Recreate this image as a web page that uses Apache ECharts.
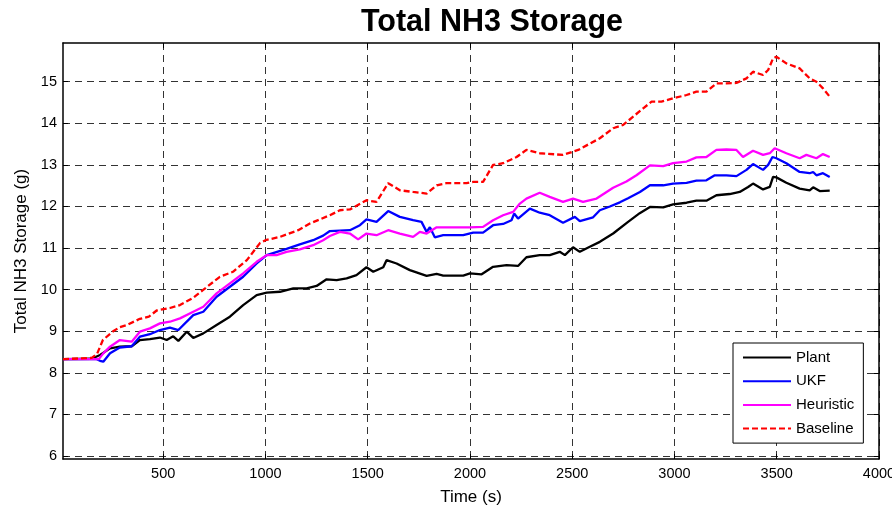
<!DOCTYPE html>
<html>
<head>
<meta charset="utf-8">
<script src="https://cdn.jsdelivr.net/npm/echarts@6/dist/echarts.min.js"></script>
<style>
  html, body { margin: 0; padding: 0; background: #fff; }
  #chart { width: 892px; height: 508px; }
</style>
</head>
<body>
<div id="chart"></div>
<script>
// Tick positions
const xTicks = [500, 1000, 1500, 2000, 2500, 3000, 3500, 4000];
const yTicks = [6, 7, 8, 9, 10, 11, 12, 13, 14, 15];

// Plant
const plantT = [10, 150, 191, 240, 288, 346, 386, 435, 484, 517, 549, 574, 615, 647, 696, 761, 826, 891, 957, 1006, 1071, 1136, 1201, 1250, 1299, 1348, 1397, 1445, 1494, 1527, 1576, 1592, 1641, 1706, 1788, 1837, 1869, 1967, 2000, 2057, 2113, 2179, 2235, 2276, 2341, 2390, 2439, 2464, 2504, 2537, 2586, 2635, 2700, 2773, 2830, 2880, 2945, 2993, 3059, 3107, 3156, 3205, 3270, 3319, 3360, 3384, 3433, 3466, 3482, 3498, 3547, 3612, 3661, 3678, 3710, 3759];
const plantV = [8.33, 8.34, 8.43, 8.59, 8.63, 8.64, 8.79, 8.81, 8.85, 8.79, 8.88, 8.77, 8.99, 8.84, 8.95, 9.15, 9.35, 9.63, 9.87, 9.93, 9.95, 10.03, 10.03, 10.09, 10.25, 10.23, 10.27, 10.35, 10.54, 10.43, 10.54, 10.71, 10.63, 10.47, 10.33, 10.38, 10.34, 10.34, 10.39, 10.37, 10.55, 10.59, 10.57, 10.78, 10.83, 10.83, 10.91, 10.83, 11.02, 10.91, 11.03, 11.15, 11.35, 11.63, 11.84, 11.99, 11.98, 12.05, 12.09, 12.14, 12.14, 12.27, 12.30, 12.35, 12.47, 12.55, 12.41, 12.47, 12.71, 12.70, 12.57, 12.43, 12.39, 12.46, 12.37, 12.38];

// UKF
const ukfT = [10, 175, 191, 207, 240, 288, 346, 386, 435, 484, 533, 574, 647, 696, 761, 826, 891, 957, 1006, 1103, 1168, 1233, 1282, 1315, 1413, 1462, 1494, 1543, 1600, 1657, 1722, 1763, 1788, 1804, 1828, 1869, 1967, 2016, 2064, 2113, 2162, 2203, 2216, 2235, 2293, 2341, 2390, 2455, 2513, 2537, 2602, 2635, 2684, 2733, 2773, 2831, 2880, 2945, 2993, 3059, 3107, 3156, 3197, 3254, 3303, 3352, 3384, 3433, 3458, 3479, 3498, 3547, 3612, 3661, 3678, 3694, 3726, 3759];
const ukfV = [8.33, 8.33, 8.29, 8.27, 8.47, 8.61, 8.64, 8.87, 8.93, 9.03, 9.09, 9.03, 9.39, 9.47, 9.83, 10.07, 10.31, 10.63, 10.83, 10.98, 11.09, 11.19, 11.30, 11.41, 11.43, 11.55, 11.69, 11.63, 11.89, 11.75, 11.67, 11.63, 11.39, 11.50, 11.26, 11.31, 11.31, 11.37, 11.37, 11.55, 11.58, 11.67, 11.83, 11.71, 11.95, 11.85, 11.79, 11.61, 11.75, 11.65, 11.74, 11.91, 12.00, 12.10, 12.20, 12.35, 12.51, 12.51, 12.55, 12.57, 12.62, 12.63, 12.75, 12.75, 12.73, 12.88, 13.02, 12.88, 13.00, 13.19, 13.16, 13.04, 12.83, 12.80, 12.83, 12.75, 12.80, 12.71];

// Heuristic
const heurT = [10, 185, 207, 240, 288, 346, 386, 435, 484, 533, 582, 647, 696, 761, 826, 891, 957, 1006, 1054, 1103, 1168, 1233, 1282, 1315, 1364, 1413, 1453, 1494, 1543, 1600, 1657, 1722, 1755, 1788, 1837, 2000, 2064, 2113, 2162, 2211, 2244, 2276, 2341, 2390, 2455, 2504, 2553, 2619, 2700, 2765, 2814, 2880, 2945, 2993, 3059, 3107, 3156, 3205, 3254, 3303, 3335, 3384, 3433, 3466, 3490, 3547, 3612, 3645, 3694, 3726, 3759];
const heurV = [8.33, 8.33, 8.47, 8.63, 8.79, 8.75, 8.99, 9.07, 9.19, 9.23, 9.31, 9.47, 9.59, 9.91, 10.15, 10.39, 10.67, 10.83, 10.83, 10.91, 10.97, 11.07, 11.19, 11.29, 11.39, 11.35, 11.21, 11.35, 11.31, 11.43, 11.35, 11.27, 11.39, 11.35, 11.50, 11.50, 11.51, 11.67, 11.79, 11.87, 12.07, 12.19, 12.33, 12.23, 12.11, 12.19, 12.11, 12.19, 12.45, 12.60, 12.75, 12.99, 12.97, 13.04, 13.08, 13.18, 13.19, 13.36, 13.37, 13.36, 13.19, 13.34, 13.24, 13.28, 13.40, 13.28, 13.16, 13.24, 13.16, 13.26, 13.19];

// Baseline
const baseT = [10, 150, 176, 205, 255, 288, 322, 386, 430, 468, 533, 582, 645, 694, 777, 841, 909, 973, 1000, 1071, 1160, 1217, 1315, 1364, 1413, 1494, 1543, 1600, 1657, 1722, 1788, 1837, 1885, 1983, 2016, 2064, 2113, 2162, 2228, 2276, 2341, 2455, 2529, 2635, 2700, 2749, 2798, 2847, 2888, 2936, 2993, 3059, 3107, 3156, 3205, 3254, 3303, 3352, 3384, 3433, 3458, 3482, 3498, 3547, 3612, 3661, 3694, 3726, 3759];
const baseV = [8.33, 8.36, 8.45, 8.79, 9.00, 9.10, 9.15, 9.30, 9.35, 9.50, 9.56, 9.63, 9.80, 9.99, 10.31, 10.43, 10.71, 11.12, 11.19, 11.27, 11.43, 11.59, 11.79, 11.91, 11.93, 12.15, 12.11, 12.56, 12.39, 12.35, 12.31, 12.51, 12.56, 12.56, 12.59, 12.59, 13.00, 13.04, 13.19, 13.36, 13.28, 13.24, 13.36, 13.64, 13.88, 13.96, 14.16, 14.36, 14.52, 14.52, 14.60, 14.68, 14.76, 14.76, 14.96, 14.96, 14.97, 15.08, 15.24, 15.16, 15.28, 15.56, 15.60, 15.44, 15.32, 15.08, 15.00, 14.84, 14.64];

const seriesNames = ['Plant', 'UKF', 'Heuristic', 'Baseline'];

function pairs(t, v) {
  return t.map((x, i) => [x, v[i]]);
}

const FONT = '"Liberation Sans", Arial, Helvetica, sans-serif';
const X_MIN = 10, X_MAX = 4000;
const Y_MIN = 5.93, Y_MAX = 15.93;
const LINE_W = 2.3;

const gridLine = { show: true, lineStyle: { type: [7, 5], color: '#333', width: 1 } };
const frameLine = { show: true, onZero: false, lineStyle: { color: '#000', width: 1.5 } };
const plain = v => String(v);

const chart = echarts.init(document.getElementById('chart'), null, { renderer: 'canvas' });

chart.setOption({
  animation: false,
  backgroundColor: '#fff',
  title: {
    text: 'Total NH3 Storage',
    left: 487,
    top: 2,
    textAlign: 'center',
    textStyle: { fontFamily: FONT, fontSize: 30.5, fontWeight: 'bold', color: '#000' }
  },
  grid: { left: 63, right: 13, top: 43, bottom: 49, outerBoundsMode: 'none', containLabel: false },
  legend: {
    orient: 'vertical',
    left: 733,
    top: 343,
    itemWidth: 48,
    itemHeight: 14,
    itemGap: 8.7,
    padding: [7, 9, 7, 9],
    borderColor: '#000',
    borderWidth: 1,
    borderRadius: 0,
    backgroundColor: '#fff',
    itemStyle: { opacity: 0 },
    textStyle: { fontFamily: FONT, fontSize: 15, color: '#000' },
    data: seriesNames
  },
  xAxis: [
    {
      type: 'value', min: X_MIN, max: X_MAX, position: 'bottom',
      name: 'Time (s)', nameLocation: 'middle', nameGap: 30,
      nameTextStyle: { fontFamily: FONT, fontSize: 17, color: '#000' },
      axisLine: frameLine,
      axisTick: { show: true, inside: true, length: 5, customValues: xTicks, lineStyle: { color: '#000' } },
      axisLabel: { customValues: xTicks, formatter: plain, fontFamily: FONT, fontSize: 14.5, color: '#000', margin: 7 },
      splitLine: gridLine
    },
    {
      type: 'value', min: X_MIN, max: X_MAX, position: 'top',
      axisLine: frameLine,
      axisTick: { show: true, inside: true, length: 5, customValues: xTicks, lineStyle: { color: '#000' } },
      axisLabel: { show: false },
      splitLine: { show: false }
    }
  ],
  yAxis: [
    {
      type: 'value', min: Y_MIN, max: Y_MAX, position: 'left',
      name: 'Total NH3 Storage (g)', nameLocation: 'middle', nameGap: 27,
      nameTextStyle: { fontFamily: FONT, fontSize: 17, color: '#000' },
      axisLine: frameLine,
      axisTick: { show: true, inside: true, length: 5, customValues: yTicks, lineStyle: { color: '#000' } },
      axisLabel: { customValues: yTicks, formatter: plain, fontFamily: FONT, fontSize: 14.5, color: '#000', margin: 6 },
      splitLine: gridLine
    },
    {
      type: 'value', min: Y_MIN, max: Y_MAX, position: 'right',
      axisLine: frameLine,
      axisTick: { show: true, inside: true, length: 5, customValues: yTicks, lineStyle: { color: '#000' } },
      axisLabel: { show: false },
      splitLine: { show: false }
    }
  ],
  series: [
    { name: 'Plant', type: 'line', symbol: 'none', data: pairs(plantT, plantV),
      color: '#000000', lineStyle: { width: LINE_W, color: '#000000' } },
    { name: 'UKF', type: 'line', symbol: 'none', data: pairs(ukfT, ukfV),
      color: '#0000ff', lineStyle: { width: LINE_W, color: '#0000ff' } },
    { name: 'Heuristic', type: 'line', symbol: 'none', data: pairs(heurT, heurV),
      color: '#ff00ff', lineStyle: { width: LINE_W, color: '#ff00ff' } },
    { name: 'Baseline', type: 'line', symbol: 'none', data: pairs(baseT, baseV),
      color: '#ff0000', lineStyle: { width: LINE_W, color: '#ff0000', type: [6, 3] } }
  ]
});
</script>
</body>
</html>
